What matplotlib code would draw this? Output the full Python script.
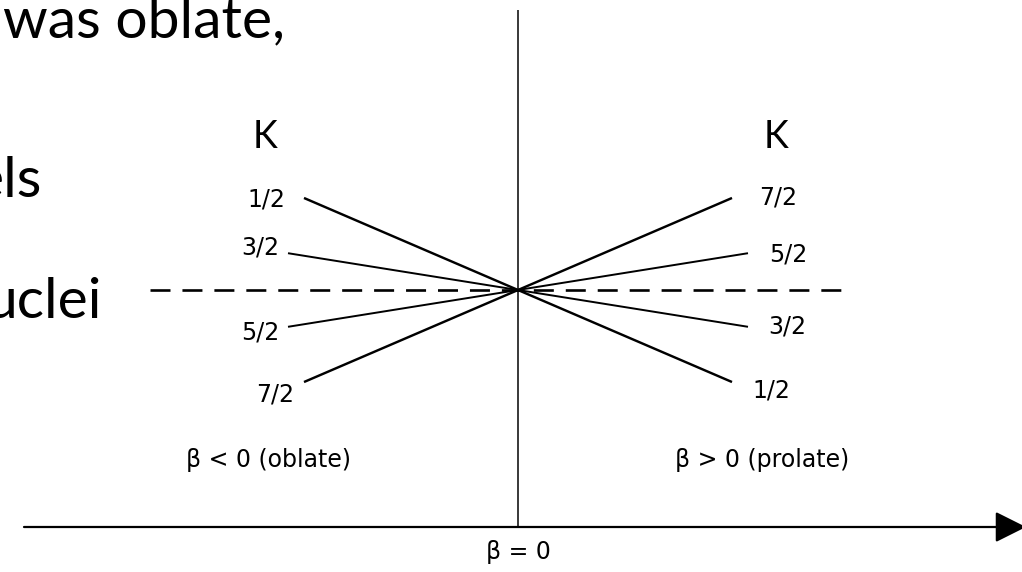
import matplotlib
matplotlib.use("Agg")
import matplotlib.pyplot as plt

# K values of the single-particle levels and their slopes dE/dbeta
k_labels = ["1/2", "3/2", "5/2", "7/2"]
k_slopes = [-0.43, -0.16, 0.16, 0.43]
# how far each level is drawn on either side of beta = 0
k_extent = [2.14, 2.30, 2.30, 2.14]

side_labels = ["\u03b2 < 0 (oblate)", "\u03b2 > 0 (prolate)"]
origin_label = "\u03b2 = 0"
slide_words = ["was oblate,", "els", "uclei"]

W, H = 1022, 572
fig = plt.figure(figsize=(W / 100, H / 100), dpi=100)
ax = fig.add_axes([0, 0, 1, 1])
ax.set_xlim(-5.18, 5.04)
ax.set_ylim(-2.82, 2.90)
ax.axis("off")

label_font = dict(family="DejaVu Sans", fontsize=17, color="black")
slide_font = dict(family=["Lato", "DejaVu Sans"], fontsize=41, color="black")

# slide text partly hidden behind the figure's left edge
slide_pos = [(-2.33, 2.53), (-4.76, 0.93), (-4.16, -0.28)]
for word, (xr, yb) in zip(slide_words, slide_pos):
    ax.text(xr, yb, word, ha="right", va="baseline", **slide_font)

# energy axis (beta = 0) and deformation axis
ax.plot([0, 0], [2.80, -2.37], color="#2a2a2a", lw=1.3, solid_capstyle="butt")
ax.annotate("", xy=(5.08, -2.37), xytext=(-4.94, -2.37), annotation_clip=False,
            arrowprops=dict(arrowstyle="-|>", mutation_scale=48, lw=1.6,
                            color="black", shrinkA=0, shrinkB=0))

# spherical level
plt.rcParams["lines.scale_dashes"] = False
ax.plot([-3.68, 3.34], [0, 0], color="black", lw=1.9, dashes=(14.4, 8.6))

# split levels on the oblate and prolate sides
for lab, s, ext in zip(k_labels, k_slopes, k_extent):
    lw = 1.75 if ext < 2.2 else 1.4
    for side in (-1, 1):
        b = side * ext
        ax.plot([0, b], [0, s * b], color="black", lw=lw, solid_capstyle="butt")

# label offsets (points) from the ends of each level
left_off = [(-27, -1), (-20, 4), (-20, -4), (-21, -9)]
right_off = [(28, -6), (28, 0), (29, -1), (33, 0)]
for lab, s, ext, lo, ro in zip(k_labels, k_slopes, k_extent, left_off, right_off):
    ax.annotate(lab, xy=(-ext, -s * ext), xytext=lo, textcoords="offset points",
                ha="center", va="center", **label_font)
    ax.annotate(lab, xy=(ext, s * ext), xytext=ro, textcoords="offset points",
                ha="center", va="center", **label_font)

k_font = dict(family=["Lato", "DejaVu Sans"], fontsize=27, color="black")
ax.text(-2.53, 1.53, "K", ha="center", va="center", **k_font)
ax.text(2.58, 1.53, "K", ha="center", va="center", **k_font)

ax.text(-2.50, -1.70, side_labels[0], ha="center", va="center", **label_font)
ax.text(2.44, -1.70, side_labels[1], ha="center", va="center", **label_font)
ax.text(0, -2.62, origin_label, ha="center", va="center", **label_font)

fig.savefig("out.png", dpi=100)
